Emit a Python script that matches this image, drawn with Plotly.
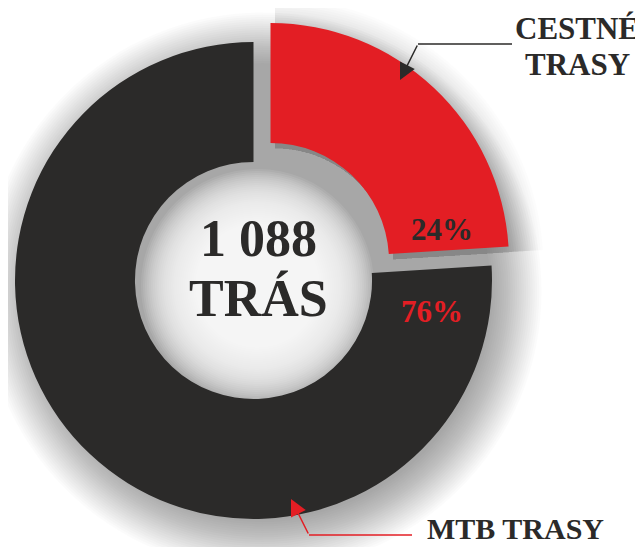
import math
import plotly.graph_objects as go

W, H = 643, 547
OFF = 8  # page body margin: window pixel = figure pixel + OFF

# ---- data ----
categories = ["CESTNÉ TRASY", "MTB TRASY"]
values = [24, 76]
slice_colors = ["#e31e24", "#2b2a29"]
pct_colors = ["#2b2a29", "#e31e24"]
center_lines = ["1 088", "TRÁS"]

# ---- geometry (window pixels) ----
CX, CY, R = 253.5, 280.5, 238.5
HOLE = 0.497
PDX, PDY = 17, -19          # offset of the detached slice
SHX, SHY = 9, 11            # shadow offset
FONT = "Liberation Serif"
INK = "#2b2a29"
RED = "#e31e24"


def domain(cx, cy, r):
    fx, fy = cx - OFF, cy - OFF
    return dict(x=[(fx - r) / W, (fx + r) / W], y=[(H - fy - r) / H, (H - fy + r) / H])


fig = go.Figure()

# invisible pixel-space axes for decorations (data coords == window pixels)
fig.add_trace(go.Scatter(x=[OFF, OFF + W], y=[OFF, OFF + H], mode="markers",
                         marker=dict(opacity=0), hoverinfo="skip", showlegend=False))

# main donut (black part), red part transparent
fig.add_trace(go.Pie(
    labels=categories, values=values, sort=False, direction="clockwise", rotation=0,
    hole=HOLE, domain=domain(CX, CY, R), textinfo="none", showlegend=False,
    marker=dict(colors=["rgba(0,0,0,0)", slice_colors[1]], line=dict(width=0)),
))
# detached red slice
fig.add_trace(go.Pie(
    labels=categories, values=values, sort=False, direction="clockwise", rotation=0,
    hole=HOLE, domain=domain(CX + PDX, CY + PDY, R), textinfo="none", showlegend=False,
    marker=dict(colors=[slice_colors[0], "rgba(0,0,0,0)"], line=dict(width=0)),
))

shapes = []
# outer shadow: stacked translucent discs
for k in range(24):
    r = R - 10 + k * 2.2
    shapes.append(dict(type="circle", xref="x", yref="y", layer="below",
                       x0=CX + SHX - r, x1=CX + SHX + r, y0=CY + SHY - r, y1=CY + SHY + r,
                       fillcolor="rgba(0,0,0,0.014)", line=dict(width=0)))

# shadow of detached slice (ring sectors)
total = sum(values)
a1 = 2 * math.pi * values[0] / total
rcx, rcy = CX + PDX + SHX * 0.5, CY + PDY + SHY * 0.5
rin = R * HOLE
for k in range(16):
    ro = R - 6 + k * 2.4
    pts = []
    steps = 60
    for i in range(steps + 1):
        t = a1 * i / steps
        pts.append((rcx + ro * math.sin(t), rcy - ro * math.cos(t)))
    for i in range(steps + 1):
        t = a1 * (steps - i) / steps
        pts.append((rcx + rin * math.sin(t), rcy - rin * math.cos(t)))
    path = "M" + " L".join(f"{x:.2f},{y:.2f}" for x, y in pts) + " Z"
    shapes.append(dict(type="path", xref="x", yref="y", layer="below", path=path,
                       fillcolor="rgba(0,0,0,0.011)", line=dict(width=0)))

# hole: lighten towards centre
hx, hy = CX + 4, CY + 5
for k in range(30):
    r = rin - 2 - k * 2
    shapes.append(dict(type="circle", xref="x", yref="y", layer="below",
                       x0=hx - r, x1=hx + r, y0=hy - r, y1=hy + r,
                       fillcolor="rgba(255,255,255,0.09)", line=dict(width=0)))

# connector horizontal segments
shapes.append(dict(type="line", xref="x", yref="y", x0=512, x1=418, y0=44, y1=44,
                   line=dict(color=INK, width=1.5), layer="above"))
shapes.append(dict(type="line", xref="x", yref="y", x0=412, x1=309, y0=535, y1=535,
                   line=dict(color=RED, width=1.5), layer="above"))

annotations = []
# percentage labels
pct = [f"{round(v / total * 100)}%" for v in values]
annotations.append(dict(x=442, y=229, xref="x", yref="y", text=pct[0], showarrow=False,
                        font=dict(family=FONT, size=31, color=pct_colors[0], weight="bold")))
annotations.append(dict(x=432, y=311, xref="x", yref="y", text=pct[1], showarrow=False,
                        font=dict(family=FONT, size=31, color=pct_colors[1], weight="bold")))
# centre text
annotations.append(dict(x=258, y=238, xref="x", yref="y", text=center_lines[0], showarrow=False,
                        font=dict(family=FONT, size=52, color=INK, weight="bold")))
annotations.append(dict(x=258, y=298, xref="x", yref="y", text=center_lines[1], showarrow=False,
                        font=dict(family=FONT, size=52, color=INK, weight="bold")))
# category labels
annotations.append(dict(x=577, y=28, xref="x", yref="y", text=categories[0].split(" ")[0],
                        showarrow=False, font=dict(family=FONT, size=31, color=INK, weight="bold")))
annotations.append(dict(x=577, y=64, xref="x", yref="y", text=categories[0].split(" ")[1],
                        showarrow=False, font=dict(family=FONT, size=31, color=INK, weight="bold")))
annotations.append(dict(x=515, y=528, xref="x", yref="y", text=categories[1],
                        showarrow=False, font=dict(family=FONT, size=30, color=INK, weight="bold")))
# arrow heads (diagonal parts)
annotations.append(dict(x=400, y=80, xref="x", yref="y", ax=418, ay=44, axref="x", ayref="y",
                        text="", showarrow=True, arrowhead=2, arrowsize=2.2, arrowwidth=1.5,
                        arrowcolor=INK, standoff=0))
annotations.append(dict(x=291, y=499, xref="x", yref="y", ax=309, ay=535, axref="x", ayref="y",
                        text="", showarrow=True, arrowhead=2, arrowsize=2.2, arrowwidth=1.5,
                        arrowcolor=RED, standoff=0))

fig.update_layout(
    width=W, height=H, margin=dict(l=0, r=0, t=0, b=0),
    paper_bgcolor="white", plot_bgcolor="rgba(0,0,0,0)",
    xaxis=dict(range=[OFF, OFF + W], visible=False, fixedrange=True),
    yaxis=dict(range=[OFF + H, OFF], visible=False, fixedrange=True),
    shapes=shapes, annotations=annotations, showlegend=False,
)

fig.write_html("out.html", config={"displayModeBar": False})
